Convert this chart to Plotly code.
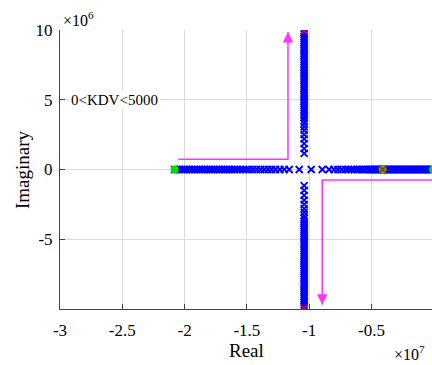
import plotly.graph_objects as go

# ---- data (real part in 1e7 units, imaginary part in 1e6 units) ----
left_re = [-2.08, -2.06, -2.04, -2.02, -2.00, -1.98, -1.96, -1.94, -1.92, -1.90,
           -1.88, -1.86, -1.84, -1.82, -1.80, -1.78, -1.76, -1.74, -1.72, -1.70,
           -1.68, -1.66, -1.64, -1.62, -1.60, -1.58, -1.555, -1.53, -1.505, -1.48,
           -1.45, -1.42, -1.39, -1.36, -1.33, -1.30, -1.27, -1.235, -1.20, -1.16, -1.08]
right_re = [-0.41, -0.42, -0.43, -0.44, -0.45, -0.46, -0.47, -0.48, -0.49, -0.50,
            -0.51, -0.52, -0.535, -0.55, -0.565, -0.58, -0.60, -0.62, -0.64, -0.66,
            -0.685, -0.71, -0.74, -0.77, -0.80, -0.84, -0.895, -0.984]
far_re = [-0.005, -0.015, -0.025, -0.035, -0.045, -0.055, -0.065, -0.075, -0.085, -0.095,
          -0.105, -0.115, -0.125, -0.135, -0.145, -0.155, -0.165, -0.175, -0.185, -0.195,
          -0.205, -0.215, -0.225, -0.235, -0.245, -0.255, -0.265, -0.275, -0.285, -0.295,
          -0.305, -0.315, -0.325, -0.335, -0.345, -0.355, -0.365, -0.375, -0.385, -0.395, -0.405]
vert_re = -1.04
upper_im = [1.15, 1.5, 1.85, 2.2, 2.5, 2.8, 3.05, 3.3, 3.5, 3.7, 3.85, 4.0, 4.15, 4.3, 4.45,
            4.6, 4.75, 4.9, 5.05, 5.2, 5.35, 5.5, 5.65, 5.8, 5.95, 6.1, 6.25, 6.4, 6.55,
            6.7, 6.85, 7.0, 7.15, 7.3, 7.45, 7.6, 7.75, 7.9, 8.05, 8.2, 8.35, 8.5, 8.65,
            8.8, 8.95, 9.1, 9.25, 9.4, 9.55, 9.7, 9.85, 9.95]
lower_im = [-1.15, -1.5, -1.85, -2.2, -2.5, -2.8, -3.05, -3.3, -3.5, -3.7, -3.85, -4.0, -4.15, -4.3, -4.45,
            -4.6, -4.75, -4.9, -5.05, -5.2, -5.35, -5.5, -5.65, -5.8, -5.95, -6.1, -6.25, -6.4, -6.55,
            -6.7, -6.85, -7.0, -7.15, -7.3, -7.45, -7.6, -7.75, -7.9, -8.05, -8.2, -8.35, -8.5, -8.65,
            -8.8, -8.95, -9.1, -9.25, -9.4, -9.55, -9.7, -9.85, -9.95]

start_re = [-2.08, -0.41, -0.005]
start_im = [0, 0, 0]
end_re = [-1.04, -1.04, -0.41]
end_im = [9.95, -9.95, 0]

arrow1_re = [-2.05, -1.17, -1.17]
arrow1_im = [0.74, 0.74, 9.85]
arrow2_re = [0.0, -0.895, -0.895]
arrow2_im = [-0.75, -0.75, -9.7]

x_ticks = [-3, -2.5, -2, -1.5, -1, -0.5]
x_ticktext = ["-3", "-2.5", "-2", "-1.5", "-1", "-0.5"]
y_ticks = [-5, 0, 5, 10]
y_ticktext = ["-5", "0", "5", "10"]
label_text = "0<KDV<5000"

FONT = "Liberation Serif"
MAG = "#ff33ff"

blue_x = left_re + right_re + far_re + [vert_re] * len(upper_im) + [vert_re] * len(lower_im)
blue_y = [0] * (len(left_re) + len(right_re) + len(far_re)) + upper_im + lower_im

fig = go.Figure()
fig.add_trace(go.Scatter(x=arrow1_re, y=arrow1_im, mode="lines",
                         line=dict(color=MAG, width=1.5), hoverinfo="skip"))
fig.add_trace(go.Scatter(x=arrow2_re, y=arrow2_im, mode="lines",
                         line=dict(color=MAG, width=1.5), hoverinfo="skip"))
fig.add_trace(go.Scatter(x=blue_x, y=blue_y, mode="markers",
                         marker=dict(symbol="x-thin", size=7,
                                     line=dict(color="#0000ff", width=1.8))))
fig.add_trace(go.Scatter(x=start_re, y=start_im, mode="markers",
                         marker=dict(symbol="circle", size=8, color="#00dd00")))
fig.add_trace(go.Scatter(x=end_re, y=end_im, mode="markers",
                         marker=dict(symbol="x-thin", size=7,
                                     line=dict(color="#ff0000", width=1.6))))

for xs, ys in [(arrow1_re, arrow1_im), (arrow2_re, arrow2_im)]:
    fig.add_annotation(x=xs[-1], y=ys[-1], ax=xs[-2], ay=ys[-1] - (ys[-1] - ys[-2]) * 0.1,
                       xref="x", yref="y", axref="x", ayref="y", text="",
                       showarrow=True, arrowhead=2, arrowsize=1.4, arrowwidth=1.5,
                       arrowcolor=MAG)

fig.add_annotation(x=-2.93, y=5, xref="x", yref="y", text=label_text, showarrow=False,
                   xanchor="left", yanchor="middle", bgcolor="white",
                   font=dict(family=FONT, size=15, color="black"), borderpad=1)
fig.add_annotation(x=(61 - 60) / 372, y=1 + (30 - 19) / 279, xref="paper", yref="paper",
                   text="×10<sup>6</sup>", showarrow=False, xanchor="left", yanchor="middle",
                   font=dict(family=FONT, size=16, color="black"))
fig.add_annotation(x=(392 - 60) / 372, y=-(353 - 309) / 279, xref="paper", yref="paper",
                   text="×10<sup>7</sup>", showarrow=False, xanchor="left", yanchor="middle",
                   font=dict(family=FONT, size=16, color="black"))
fig.add_annotation(x=(246 - 60) / 372, y=-(350 - 309) / 279, xref="paper", yref="paper",
                   text="Real", showarrow=False, xanchor="center", yanchor="middle",
                   font=dict(family=FONT, size=19, color="black"))
fig.add_annotation(x=-(60 - 22) / 372, y=(309 - 170) / 279, xref="paper", yref="paper",
                   text="Imaginary", showarrow=False, xanchor="center", yanchor="middle",
                   textangle=-90, font=dict(family=FONT, size=19, color="black"))

fig.update_layout(
    width=432, height=365,
    margin=dict(l=60, r=0, t=30, b=56, autoexpand=False),
    paper_bgcolor="white", plot_bgcolor="white",
    showlegend=False,
    font=dict(family=FONT, size=16, color="black"),
)

fig.update_xaxes(range=[-3, -0.014], tickvals=x_ticks, ticktext=x_ticktext,
                 showgrid=True, gridcolor="#dadada", gridwidth=1, zeroline=False,
                 showline=True, linecolor="#444444", linewidth=1,
                 ticks="inside", ticklen=5, tickcolor="#444444",
                 tickfont=dict(family=FONT, size=17, color="black"),
                 ticklabelstandoff=6)
fig.update_yaxes(range=[-10, 10], tickvals=y_ticks, ticktext=y_ticktext,
                 showgrid=True, gridcolor="#dadada", gridwidth=1, zeroline=False,
                 showline=True, linecolor="#444444", linewidth=1,
                 ticks="inside", ticklen=5, tickcolor="#444444",
                 tickfont=dict(family=FONT, size=17, color="black"),
                 ticklabelstandoff=3)

fig.write_html("out.html")
